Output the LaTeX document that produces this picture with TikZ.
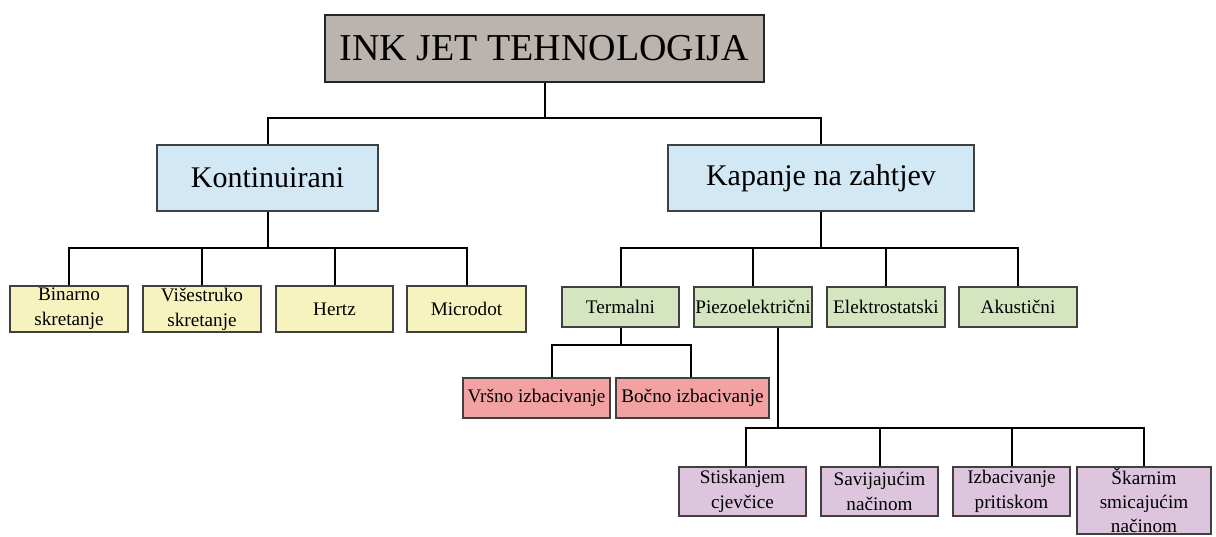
\documentclass[tikz,border=0pt]{standalone}
\usepackage{fontspec}
\setmainfont{Liberation Serif}

\definecolor{rootgray}{HTML}{BAB3AE}
\definecolor{kindblue}{HTML}{D2E8F4}
\definecolor{contyellow}{HTML}{F6F3BF}
\definecolor{dropgreen}{HTML}{D4E5C0}
\definecolor{thermred}{HTML}{F2A2A2}
\definecolor{piezopurple}{HTML}{DCC5DD}

\begin{document}
\begin{tikzpicture}[x=0.5pt,y=-0.5pt,
  box/.style={draw=black!75,line width=0.6pt,inner sep=0pt,align=center,
    font=\fontsize{9.6}{12.5}\selectfont},
  rootbox/.style={box,fill=rootgray,line width=1pt,draw=black!85,
    minimum width=219.5pt,minimum height=33.5pt,font=\fontsize{19}{23}\selectfont},
  kindbox/.style={box,fill=kindblue,minimum height=33pt,font=\fontsize{15}{18}\selectfont},
  contbox/.style={box,fill=contyellow,minimum height=23pt},
  dropbox/.style={box,fill=dropgreen,minimum height=20pt},
  thermbox/.style={box,fill=thermred,minimum height=20pt},
  piezobox/.style={box,fill=piezopurple,minimum height=24.5pt},
  link/.style={black,line width=1pt}]

\useasboundingbox[fill=white] (0,0) rectangle (1216,536);

\node (ink) at (544.5,48.5) [rootbox] {INK JET TEHNOLOGIJA};

\node (kont) at (267.5,178) [kindbox,minimum width=110.5pt] {Kontinuirani};
\node (kap) at (821,178) [kindbox,minimum width=153pt] {Kapanje na zahtjev};

\node (bin) at (69,309) [contbox,minimum width=59pt] {Binarno\\skretanje};
\node (vis) at (202,309) [contbox,minimum width=59pt] {Višestruko\\skretanje};
\node (her) at (334.5,309) [contbox,minimum width=58.5pt] {Hertz};
\node (mic) at (466.5,309) [contbox,minimum width=59.5pt] {Microdot};

\node (ter) at (620.5,307) [dropbox,minimum width=58.5pt] {Termalni};
\node (pie) at (753,307) [dropbox,minimum width=59pt] {Piezoelektrični};
\node (ele) at (886,307) [dropbox,minimum width=59pt] {Elektrostatski};
\node (aku) at (1018,307) [dropbox,minimum width=59pt] {Akustični};

\node (vrs) at (536.5,398) [thermbox,minimum width=73.5pt] {Vršno izbacivanje};
\node (boc) at (692.5,398) [thermbox,minimum width=76.5pt] {Bočno izbacivanje};

\node (sti) at (742.5,491.5) [piezobox,minimum width=63.5pt] {Stiskanjem\\cjevčice};
\node (sav) at (879.5,491.5) [piezobox,minimum width=58.5pt] {Savijajućim\\načinom};
\node (izb) at (1011.5,491.5) [piezobox,minimum width=58.5pt] {Izbacivanje\\pritiskom};
\node (ska) at (1144,500.5) [piezobox,minimum width=67pt,minimum height=33.5pt,
  font=\fontsize{9.6}{12}\selectfont] {Škarnim\\smicajućim\\načinom};

\coordinate (rbus) at (545,118);
\draw[link] (ink.south) -- (ink.south |- rbus);
\draw[link] (kont.north) |- (rbus) -| (kap.north);

\coordinate (kbus) at (268,248);
\draw[link] (kont.south) -- (kont.south |- kbus);
\draw[link] (bin.north) |- (kbus) -| (mic.north);
\foreach \n in {vis,her}
  \draw[link] (\n.north) -- (\n.north |- kbus);

\coordinate (dbus) at (821,248);
\draw[link] (kap.south) -- (kap.south |- dbus);
\draw[link] (ter.north) |- (dbus) -| (aku.north);
\foreach \n in {pie,ele}
  \draw[link] (\n.north) -- (\n.north |- dbus);

\coordinate (tbus) at (621,345);
\draw[link] (ter.south) -- (ter.south |- tbus);
\draw[link] ([xshift=7.75pt]vrs.north) |- (tbus) -| ([xshift=-0.75pt]boc.north);

\coordinate (pbus) at (778,428);
\draw[link] ([xshift=12.5pt]pie.south) -- (pbus);
\draw[link] ([xshift=1.75pt]sti.north) |- (pbus) -| (ska.north);
\foreach \n in {sav,izb}
  \draw[link] (\n.north) -- (\n.north |- pbus);

\end{tikzpicture}
\end{document}
